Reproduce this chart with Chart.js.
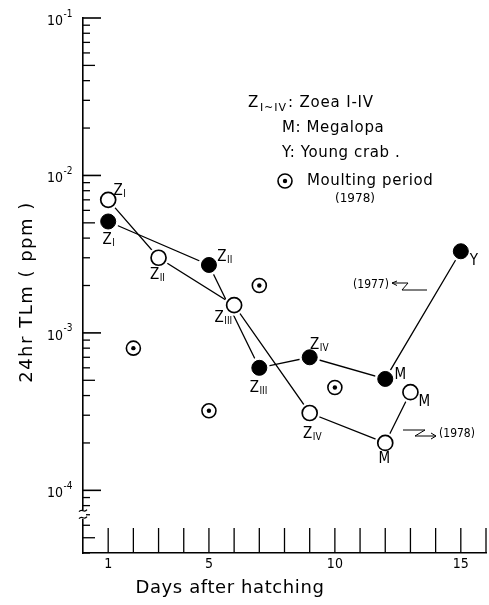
<!DOCTYPE html>
<html>
<head>
<meta charset="utf-8">
<script src="https://cdn.jsdelivr.net/npm/chart.js@4.4.0/dist/chart.umd.min.js"></script>
<style>
  html, body { margin: 0; padding: 0; background: #fff; }
  #wrap { width: 489px; height: 605px; position: relative; }
</style>
</head>
<body>
<div id="wrap"><canvas id="c" width="489" height="605"></canvas></div>
<script>
// ---- data ----
const days1978 = [1, 3, 6, 9, 12, 13];
const tlm1978 = [7.0e-3, 3.0e-3, 1.5e-3, 3.1e-4, 2.0e-4, 4.2e-4];
const stages1978 = ['ZI', 'ZII', 'ZIII', 'ZIV', 'M', 'M'];

const days1977 = [1, 5, 7, 9, 12, 15];
const tlm1977 = [5.1e-3, 2.7e-3, 6.0e-4, 7.0e-4, 5.1e-4, 3.3e-3];
const stages1977 = ['ZI', 'ZII', 'ZIII', 'ZIV', 'M', 'Y'];

const moultDays = [2, 5, 7, 10];
const moultTlm = [8.0e-4, 3.2e-4, 2.0e-3, 4.5e-4];

const xTickLabels = [1, 5, 10, 15];
const yTickExponents = [-4, -3, -2, -1];

// ---- label placement (style, kept apart from the data) ----
const labelOffsets1978 = [[10, -10], [-4, 16], [-15, 11], [-2, 20], [-1, 15], [14, 8]];
const labelOffsets1977 = [[-1, 17], [13, -9], [-5, 19], [5, -14], [15, -5], [13, 8]];

const FONT = '"DejaVu Sans Condensed", "DejaVu Sans", sans-serif';
const FONT_N = '"DejaVu Sans", sans-serif';

function pts(xs, ys) { return xs.map((x, i) => ({ x: x, y: ys[i] })); }

function drawStage(ctx, text, cx, cy) {
  const main = text.charAt(0);
  const sub = text.slice(1);
  ctx.font = '15px ' + FONT;
  ctx.textBaseline = 'alphabetic';
  ctx.textAlign = 'left';
  const w = ctx.measureText(main).width;
  const left = cx - w / 2;
  const base = cy + 5.5;
  ctx.fillText(main, left, base);
  if (sub) {
    ctx.font = '10px ' + FONT;
    ctx.fillText(sub, left + w + 0.5, base + 2);
  }
}

const overlay = {
  id: 'overlay',
  afterDraw(chart) {
    const ctx = chart.ctx;
    const xs = chart.scales.x, ys = chart.scales.y;
    const area = chart.chartArea;
    ctx.save();
    ctx.strokeStyle = '#000';
    ctx.fillStyle = '#000';
    ctx.lineWidth = 1.3;

    // x ticks: inward, every day
    for (let d = 1; d <= 16; d++) {
      const x = xs.getPixelForValue(d);
      ctx.beginPath();
      ctx.moveTo(x, area.bottom);
      ctx.lineTo(x, area.bottom - 25);
      ctx.stroke();
    }
    // y ticks: inward log ticks
    for (let e = -5; e <= -1; e++) {
      for (let m = 1; m <= 9; m++) {
        const v = m * Math.pow(10, e);
        if (v < ys.min * 0.999 || v > ys.max * 1.001) continue;
        const y = ys.getPixelForValue(v);
        const len = m === 1 ? 18 : (m === 5 ? 12 : 7);
        ctx.lineWidth = m === 1 ? 1.6 : 1.3;
        ctx.beginPath();
        ctx.moveTo(area.left, y);
        ctx.lineTo(area.left + len, y);
        ctx.stroke();
        if (e === -1) break;
      }
    }
    // axis break
    const yb = ys.getPixelForValue(7e-5);
    ctx.fillStyle = '#fff';
    ctx.fillRect(area.left - 3, yb - 4, 6, 8);
    ctx.fillStyle = '#000';
    ctx.lineWidth = 1.2;
    for (const dy of [-4, 3]) {
      ctx.beginPath();
      ctx.moveTo(area.left - 4, yb + dy + 1);
      ctx.bezierCurveTo(area.left - 1, yb + dy - 3, area.left + 1, yb + dy + 3, area.left + 4, yb + dy - 1);
      ctx.stroke();
    }

    // x tick labels
    ctx.font = '14px ' + FONT;
    ctx.textAlign = 'center';
    ctx.textBaseline = 'middle';
    xTickLabels.forEach(d => ctx.fillText(String(d), xs.getPixelForValue(d), area.bottom + 11));

    // y tick labels with superscript exponent
    yTickExponents.forEach(e => {
      const y = ys.getPixelForValue(Math.pow(10, e));
      ctx.font = '14px ' + FONT;
      ctx.textAlign = 'right';
      ctx.textBaseline = 'middle';
      ctx.fillText('10', 63, y + 3);
      ctx.font = '10px ' + FONT;
      ctx.textAlign = 'left';
      ctx.fillText('-' + (-e), 63.5, y - 4);
    });

    // axis titles
    ctx.font = '18px ' + FONT_N;
    ctx.textAlign = 'center';
    ctx.textBaseline = 'middle';
    ctx.letterSpacing = '0.6px';
    ctx.fillText('Days after hatching', 230, 588);
    ctx.save();
    ctx.translate(27, 292);
    ctx.rotate(-Math.PI / 2);
    ctx.letterSpacing = '1.5px';
    ctx.fillText('24hr TLm ( ppm )', 0, 0);
    ctx.restore();
    ctx.letterSpacing = '0px';

    // point labels
    const m78 = chart.getDatasetMeta(0).data;
    const m77 = chart.getDatasetMeta(1).data;
    stages1978.forEach((s, i) => {
      const p = m78[i];
      drawStage(ctx, s, p.x + labelOffsets1978[i][0], p.y + labelOffsets1978[i][1]);
    });
    stages1977.forEach((s, i) => {
      const p = m77[i];
      drawStage(ctx, s, p.x + labelOffsets1977[i][0], p.y + labelOffsets1977[i][1]);
    });

    // legend text
    ctx.font = '15px ' + FONT_N;
    ctx.textAlign = 'left';
    ctx.textBaseline = 'middle';
    ctx.letterSpacing = '0.6px';
    ctx.fillText('Z', 248, 103);
    let zw = ctx.measureText('Z').width;
    ctx.font = '11px ' + FONT_N;
    ctx.letterSpacing = '1px';
    ctx.fillText('I~IV', 248 + zw + 1, 108);
    const sw = ctx.measureText('I~IV').width;
    ctx.font = '15px ' + FONT_N;
    ctx.letterSpacing = '0.8px';
    ctx.fillText(': Zoea I-IV', 248 + zw + 1 + sw + 1, 103);
    ctx.letterSpacing = '0.6px';
    ctx.fillText('M: Megalopa', 282, 128);
    ctx.fillText('Y: Young crab .', 282, 153);
    ctx.fillText('Moulting period', 307, 181);
    ctx.letterSpacing = '0px';
    ctx.font = '12px ' + FONT_N;
    ctx.textAlign = 'center';
    ctx.fillText('(1978)', 355, 199);
    ctx.lineWidth = 1.6;
    ctx.beginPath();
    ctx.arc(285, 181, 7, 0, Math.PI * 2);
    ctx.stroke();
    ctx.beginPath();
    ctx.arc(285, 181, 2.2, 0, Math.PI * 2);
    ctx.fill();

    // year annotations with arrows
    ctx.font = '12px ' + FONT;
    ctx.textAlign = 'center';
    ctx.fillText('(1977)', 371, 285);
    ctx.fillText('(1978)', 457, 434);
    ctx.lineWidth = 1;
    ctx.beginPath();
    ctx.moveTo(392, 283); ctx.lineTo(408, 283); ctx.lineTo(402, 290); ctx.lineTo(427, 290);
    ctx.moveTo(392, 283); ctx.lineTo(397, 281);
    ctx.moveTo(392, 283); ctx.lineTo(397, 285.5);
    ctx.stroke();
    ctx.beginPath();
    ctx.moveTo(403, 430); ctx.lineTo(425, 430); ctx.lineTo(415, 436); ctx.lineTo(436, 436);
    ctx.moveTo(436, 436); ctx.lineTo(431, 433);
    ctx.moveTo(436, 436); ctx.lineTo(431, 439);
    ctx.stroke();

    ctx.restore();
  }
};

const common = { showLine: true, borderColor: '#000', borderWidth: 1.3, pointRadius: 0, pointHoverRadius: 0, fill: false, tension: 0 };

new Chart(document.getElementById('c'), {
  type: 'scatter',
  data: {
    datasets: [
      // markers (drawn on top)
      { label: '1978', data: pts(days1978, tlm1978), showLine: false, pointRadius: 7.5, pointBackgroundColor: '#fff', pointBorderColor: '#000', pointBorderWidth: 1.7, order: 0 },
      { label: '1977', data: pts(days1977, tlm1977), showLine: false, pointRadius: 7.5, pointBackgroundColor: '#000', pointBorderColor: '#000', pointBorderWidth: 1, order: 0 },
      { label: 'moult', data: pts(moultDays, moultTlm), showLine: false, pointRadius: 7, pointBackgroundColor: '#fff', pointBorderColor: '#000', pointBorderWidth: 1.6, order: 1 },
      { label: 'moult dot', data: pts(moultDays, moultTlm), showLine: false, pointRadius: 2.2, pointBackgroundColor: '#000', pointBorderColor: '#000', pointBorderWidth: 0, order: 0 },
      // halos leaving a small gap between lines and markers
      { label: 'halo78', data: pts(days1978, tlm1978), showLine: false, pointRadius: 10.5, pointBackgroundColor: '#fff', pointBorderWidth: 0, order: 2 },
      { label: 'halo77', data: pts(days1977, tlm1977), showLine: false, pointRadius: 10.5, pointBackgroundColor: '#fff', pointBorderWidth: 0, order: 2 },
      // connecting lines
      Object.assign({ label: 'line78', data: pts(days1978, tlm1978), order: 3 }, common),
      Object.assign({ label: 'line77', data: pts(days1977, tlm1977), order: 3 }, common)
    ]
  },
  options: {
    responsive: false,
    animation: false,
    events: [],
    layout: { autoPadding: false, padding: { left: 83, right: 3, top: 18, bottom: 52 } },
    plugins: { legend: { display: false }, tooltip: { enabled: false } },
    scales: {
      x: {
        type: 'linear', min: 0, max: 16,
        ticks: { display: false },
        grid: { display: false, drawTicks: false, tickLength: 0 },
        border: { display: true, color: '#000', width: 1.6 }
      },
      y: {
        type: 'logarithmic', min: 4e-5, max: 0.1,
        ticks: { display: false },
        afterBuildTicks: (s) => { s.ticks = yTickExponents.map(e => ({ value: Math.pow(10, e) })); },
        grid: { display: false, drawTicks: false, tickLength: 0 },
        border: { display: true, color: '#000', width: 1.6 }
      }
    }
  },
  plugins: [overlay]
});
</script>
</body>
</html>
